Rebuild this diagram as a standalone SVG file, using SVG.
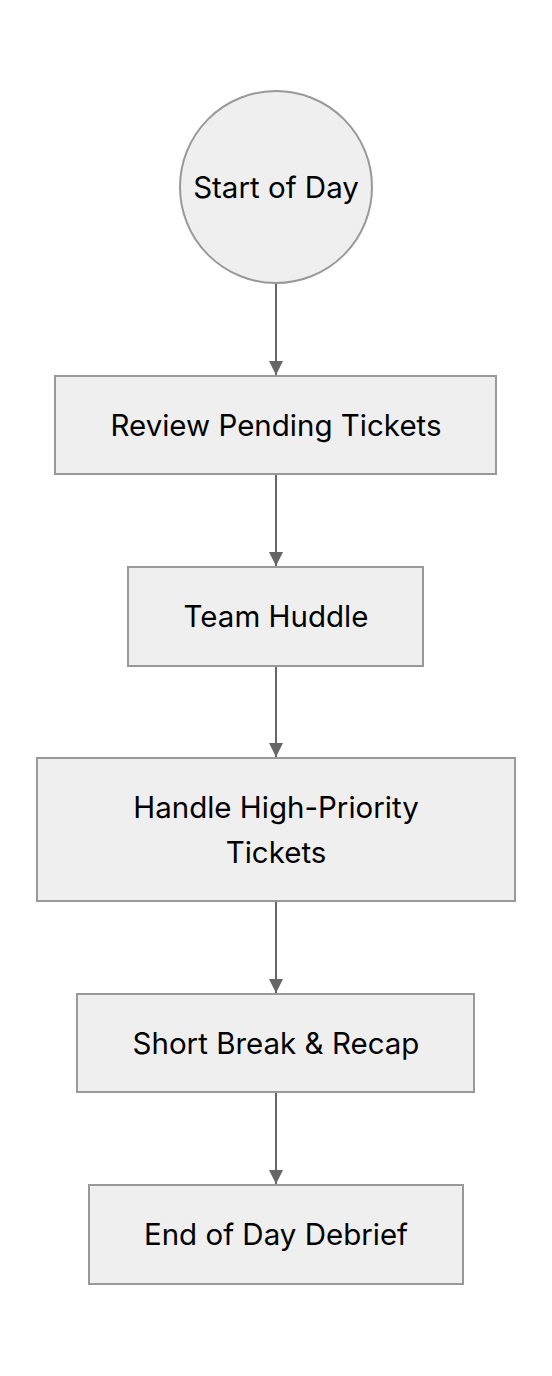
<svg xmlns="http://www.w3.org/2000/svg" width="552" height="1376" viewBox="0 0 552 1376">
<defs>
<style>
.node{fill:#efefef;stroke:#999999;stroke-width:2}
.lbl{font-family:Inter,"Noto Sans",sans-serif;font-size:29.5px;fill:#000;text-anchor:middle;dominant-baseline:central}
.edge{stroke:#666666;stroke-width:2;fill:none}
</style>
<marker id="arr" markerWidth="16" markerHeight="16" refX="14" refY="8" orient="auto" markerUnits="userSpaceOnUse">
<path d="M0,1 L14,8 L0,15 Z" fill="#666666"/>
</marker>
</defs>
<rect width="552" height="1376" fill="#ffffff"/>
<g id="edges">
<path class="edge" d="M276,284 L276,375" marker-end="url(#arr)"/>
<path class="edge" d="M276,475 L276,566" marker-end="url(#arr)"/>
<path class="edge" d="M276,667 L276,757" marker-end="url(#arr)"/>
<path class="edge" d="M276,902 L276,993" marker-end="url(#arr)"/>
<path class="edge" d="M276,1093 L276,1184" marker-end="url(#arr)"/>
</g>
<g id="start">
<circle class="node" cx="276" cy="187" r="96"/>
<text class="lbl" x="276" y="187">Start of Day</text>
</g>
<g id="review">
<rect class="node" x="55" y="376" width="441" height="98"/>
<text class="lbl" x="276" y="425">Review Pending Tickets</text>
</g>
<g id="huddle">
<rect class="node" x="128" y="567" width="295" height="99"/>
<text class="lbl" x="276" y="616">Team Huddle</text>
</g>
<g id="handle">
<rect class="node" x="37" y="758" width="478" height="143"/>
<text class="lbl" x="276" y="807">Handle High-Priority</text>
<text class="lbl" x="276" y="852">Tickets</text>
</g>
<g id="break">
<rect class="node" x="77" y="994" width="397" height="98"/>
<text class="lbl" x="276" y="1043">Short Break &amp; Recap</text>
</g>
<g id="debrief">
<rect class="node" x="89" y="1185" width="374" height="99"/>
<text class="lbl" x="276" y="1234">End of Day Debrief</text>
</g>
</svg>
